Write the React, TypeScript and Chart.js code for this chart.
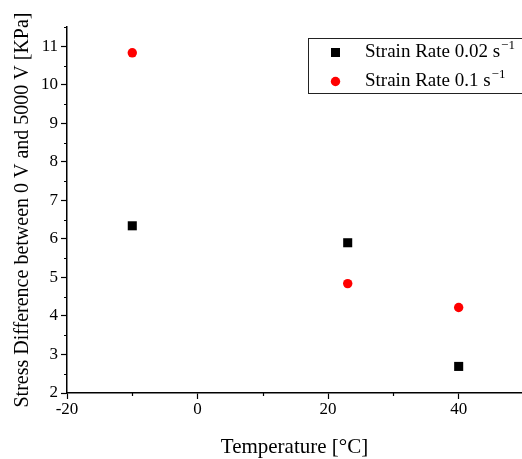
import React, { useEffect, useRef } from 'react';
import { Chart, registerables } from 'chart.js';

Chart.register(...registerables);

const temperatures = [-10, 23, 40];
const strainRate002 = [6.34, 5.9, 2.69];
const strainRate01 = [10.83, 4.84, 4.22];
const seriesLabels = ['Strain Rate 0.02 s⁻¹', 'Strain Rate 0.1 s⁻¹'];
const xTitle = 'Temperature [°C]';
const yTitle = 'Stress Difference between 0 V and 5000 V [KPa]';
const xMinorTicks = [-10, 10, 30];
const yMinorTicks = [2.5, 3.5, 4.5, 5.5, 6.5, 7.5, 8.5, 9.5, 10.5, 11.5];

const FONT = "'Liberation Serif', 'Times New Roman', serif";

const minorTicksPlugin = {
  id: 'minorTicks',
  afterDraw(chart: any) {
    const { ctx, scales } = chart;
    const x = scales.x;
    const y = scales.y;
    ctx.save();
    ctx.strokeStyle = '#000';
    ctx.lineWidth = 1.2;
    ctx.beginPath();
    xMinorTicks.forEach((v) => {
      const px = Math.round(x.getPixelForValue(v)) + 0.5;
      ctx.moveTo(px, x.top);
      ctx.lineTo(px, x.top + 3);
    });
    yMinorTicks.forEach((v) => {
      const py = Math.round(y.getPixelForValue(v)) + 0.5;
      ctx.moveTo(y.right - 3, py);
      ctx.lineTo(y.right, py);
    });
    ctx.stroke();
    ctx.restore();
  },
};

const boxLegendPlugin = {
  id: 'boxLegend',
  afterDraw(chart: any) {
    const { ctx, chartArea } = chart;
    const left = chartArea.left + 241;
    const top = chartArea.top + 11;
    const height = 55;
    ctx.save();
    ctx.strokeStyle = '#222';
    ctx.lineWidth = 1;
    ctx.strokeRect(Math.round(left) + 0.5, Math.round(top) + 0.5, 260, height);
    chart.data.datasets.forEach((ds: any, i: number) => {
      const cy = top + 14.5 + i * 29;
      const mx = left + 27.5;
      ctx.fillStyle = ds.backgroundColor;
      if (ds.pointStyle === 'rect') {
        ctx.fillRect(mx - 4.5, cy - 4.5, 9, 9);
      } else {
        ctx.beginPath();
        ctx.arc(mx, cy, 4.7, 0, Math.PI * 2);
        ctx.fill();
      }
      const label: string = ds.label;
      const sup = label.endsWith('⁻¹');
      const base = sup ? label.slice(0, -2) : label;
      ctx.fillStyle = '#000';
      ctx.textBaseline = 'middle';
      ctx.textAlign = 'left';
      ctx.font = `19px ${FONT}`;
      const tx = left + 57;
      ctx.fillText(base, tx, cy);
      if (sup) {
        const w = ctx.measureText(base).width;
        ctx.font = `13px ${FONT}`;
        ctx.fillText('−1', tx + w + 1, cy - 7);
      }
    });
    ctx.restore();
  },
};

export default function App() {
  const canvasRef = useRef<HTMLCanvasElement | null>(null);

  useEffect(() => {
    if (!canvasRef.current) return;
    const chart = new Chart(canvasRef.current, {
      type: 'scatter',
      data: {
        datasets: [
          {
            label: seriesLabels[0],
            data: temperatures.map((t, i) => ({ x: t, y: strainRate002[i] })),
            backgroundColor: '#000000',
            borderWidth: 0,
            pointStyle: 'rect',
            pointRadius: 6.4,
          },
          {
            label: seriesLabels[1],
            data: temperatures.map((t, i) => ({ x: t, y: strainRate01[i] })),
            backgroundColor: '#ff0000',
            borderWidth: 0,
            pointStyle: 'circle',
            pointRadius: 4.7,
          },
        ],
      },
      options: {
        animation: false,
        responsive: false,
        maintainAspectRatio: false,
        devicePixelRatio: 1,
        layout: { padding: { top: 27, right: 0, left: 0, bottom: 0 }, autoPadding: false },
        plugins: {
          legend: { display: false },
          tooltip: { enabled: false },
        },
        scales: {
          x: {
            type: 'linear',
            min: -20,
            max: 49.7,
            afterFit: (scale: any) => {
              scale.height = 66;
            },
            ticks: {
              stepSize: 20,
              includeBounds: false,
              color: '#000',
              font: { family: FONT, size: 17 },
              padding: 0,
              maxRotation: 0,
            },
            grid: {
              drawOnChartArea: false,
              drawTicks: true,
              tickLength: 6,
              tickColor: '#000',
              tickWidth: 1.2,
            },
            border: { display: true, color: '#000', width: 1.5 },
            title: {
              display: true,
              text: xTitle,
              color: '#000',
              font: { family: FONT, size: 21, lineHeight: 1 },
              padding: { top: 0, bottom: 1 },
            },
          },
          y: {
            type: 'linear',
            min: 2,
            max: 11.5,
            afterFit: (scale: any) => {
              scale.width = 67;
            },
            ticks: {
              stepSize: 1,
              includeBounds: false,
              color: '#000',
              font: { family: FONT, size: 17 },
              padding: 3,
            },
            grid: {
              drawOnChartArea: false,
              drawTicks: true,
              tickLength: 6,
              tickColor: '#000',
              tickWidth: 1.2,
            },
            border: { display: true, color: '#000', width: 1.5 },
            title: {
              display: true,
              text: yTitle,
              color: '#000',
              font: { family: FONT, size: 20, lineHeight: 1 },
              padding: { top: 13, bottom: 0 },
            },
          },
        },
      },
      plugins: [minorTicksPlugin, boxLegendPlugin],
    });
    return () => chart.destroy();
  }, []);

  return (
    <div style={{ position: 'absolute', left: 0, top: 0, width: 522, height: 459, background: '#fff' }}>
      <canvas ref={canvasRef} width={522} height={459} style={{ width: 522, height: 459, display: 'block' }} />
    </div>
  );
}
